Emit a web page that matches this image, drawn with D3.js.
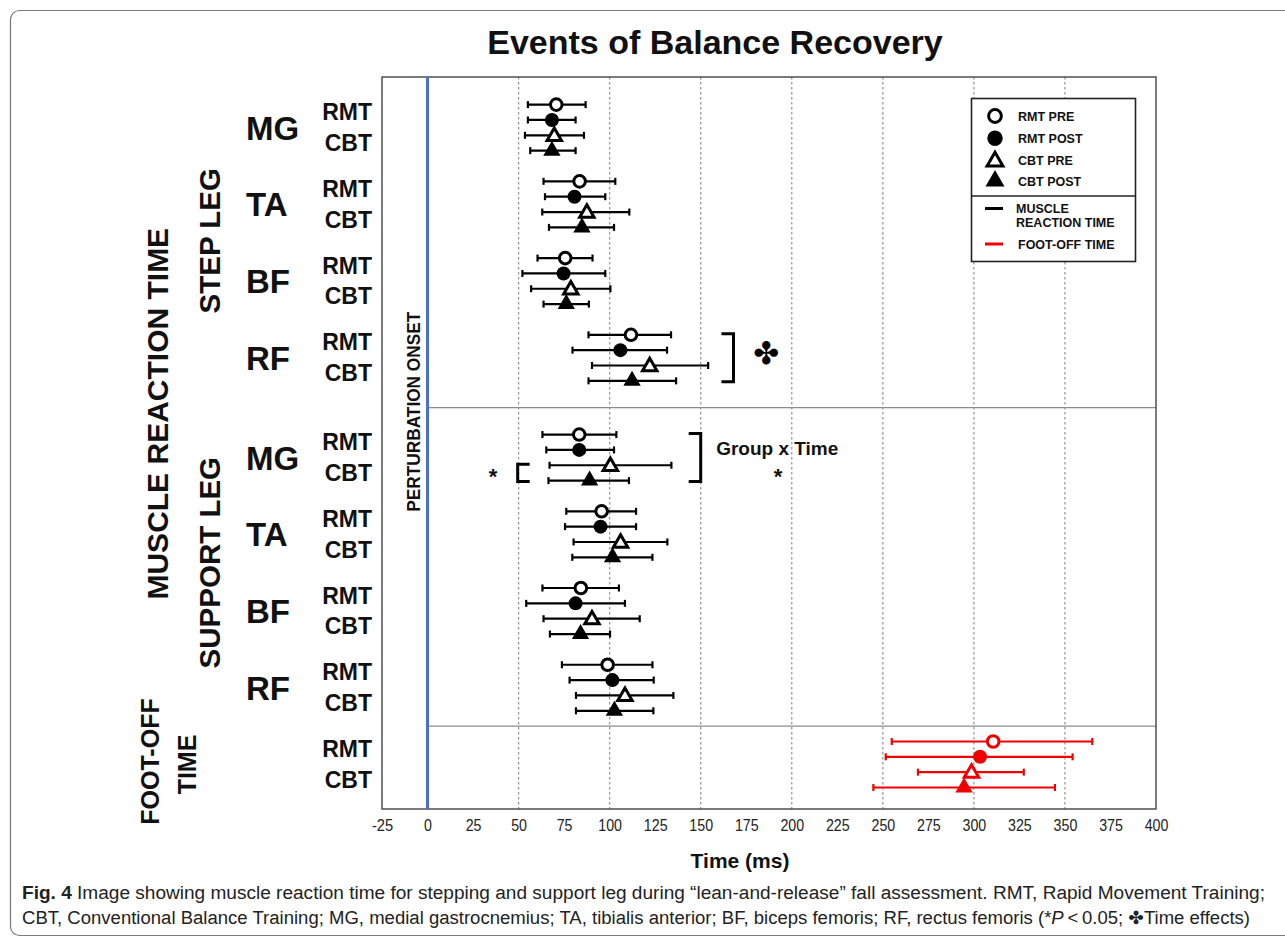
<!DOCTYPE html>
<html><head><meta charset="utf-8">
<script src="https://cdn.jsdelivr.net/npm/d3@7"></script>
<style>
body{margin:0;background:#fff;}
text{font-family:"Liberation Sans",Arial,sans-serif;}
</style></head>
<body>
<svg id="chart" width="1285" height="940"></svg>
<script>
// ---------- data ----------
const sections = ["STEP LEG", "SUPPORT LEG", "FOOT-OFF TIME"];
const muscles = ["MG", "TA", "BF", "RF"];
const series = ["RMT PRE", "RMT POST", "CBT PRE", "CBT POST"];
const groupLabels = ["RMT", "CBT"];
const xTicks = [-25, 0, 25, 50, 75, 100, 125, 150, 175, 200, 225, 250, 275, 300, 325, 350, 375, 400];
const gridValues = [50, 100, 150, 200, 250, 300, 350];

// means (ms) per muscle, series order RMT PRE, RMT POST, CBT PRE, CBT POST
const stepMean = [[70.7, 68.3, 69.6, 68.3], [83.5, 80.7, 87.5, 84.8], [75.6, 74.7, 78.7, 76.2], [111.7, 105.9, 122.0, 112.3]];
const stepLow  = [[55.1, 55.1, 53.5, 56.4], [63.7, 64.5, 63.0, 66.7], [60.4, 52.1, 56.9, 63.7], [88.4, 79.6, 90.3, 88.4]];
const stepHigh = [[86.8, 81.3, 85.9, 81.3], [103.1, 97.6, 110.8, 102.4], [90.6, 97.6, 100.4, 88.6], [133.7, 131.5, 154.1, 136.5]];

const supportMean = [[83.3, 83.3, 100.4, 89.0], [95.6, 95.0, 106.0, 101.6], [84.2, 81.3, 90.3, 84.0], [98.9, 101.5, 108.4, 102.6]];
const supportLow  = [[63.1, 65.2, 67.0, 66.4], [76.2, 75.5, 80.2, 79.5], [63.1, 54.2, 63.7, 67.2], [73.8, 78.0, 81.5, 81.5]];
const supportHigh = [[103.7, 102.4, 133.9, 110.6], [114.5, 114.5, 131.7, 123.5], [105.1, 108.4, 116.5, 100.2], [123.5, 124.2, 135.0, 124.0]];

const footMean = [[310.6, 303.4, 298.7, 294.6]];
const footLow  = [[254.9, 251.6, 269.3, 244.8]];
const footHigh = [[365.0, 354.2, 327.4, 344.5]];

// ---------- layout ----------
const svg = d3.select("#chart");
const plot = {left: 382, right: 1156, top: 77, bottom: 809};
const x = d3.scaleLinear().domain([-25, 400]).range([plot.left, plot.right]);
const y = d3.scaleLinear().domain([-1.8, 45.9]).range([plot.top, plot.bottom]);

const secGroups = [muscles, muscles, [""]];
const secMean = [stepMean, supportMean, footMean];
const secLow = [stepLow, supportLow, footLow];
const secHigh = [stepHigh, supportHigh, footHigh];
const sectionGap = [0, 1.5, 0];
const groupStep = 5;

const rows = [], groups = [], secInfo = [];
let slot = 0;
sections.forEach((sec, si) => {
  slot += sectionGap[si];
  const s0 = slot;
  secGroups[si].forEach((m, gi) => {
    groups.push({sec: si, name: m, start: slot});
    series.forEach((sr, k) => {
      rows.push({sec: si, group: gi, muscle: m, series: k, slot: slot + k,
        mean: secMean[si][gi][k], lo: secLow[si][gi][k], hi: secHigh[si][gi][k]});
    });
    slot += groupStep;
  });
  secInfo.push({start: s0, end: slot - groupStep + 3});
});

// frame
svg.append("rect").attr("x", 10.5).attr("y", 10.5).attr("width", 1290).attr("height", 925)
  .attr("rx", 9).attr("fill", "none").attr("stroke", "#7a7a7a").attr("stroke-width", 1.2);

// title
svg.append("text").attr("x", 715).attr("y", 54).attr("text-anchor", "middle")
  .attr("font-size", 34).attr("font-weight", "bold").attr("fill", "#111").text("Events of Balance Recovery");

// gridlines
svg.append("g").selectAll("line").data(gridValues).join("line")
  .attr("x1", d => x(d)).attr("x2", d => x(d)).attr("y1", plot.top).attr("y2", plot.bottom)
  .attr("stroke", "#9a9a9a").attr("stroke-width", 1.3).attr("stroke-dasharray", "2.5,2.5");

// section dividers
for (let i = 1; i < secInfo.length; i++) {
  const yy = y((secInfo[i - 1].end + secInfo[i].start) / 2);
  svg.append("line").attr("x1", x(0)).attr("x2", plot.right).attr("y1", yy).attr("y2", yy)
    .attr("stroke", "#8c8c8c").attr("stroke-width", 1.2);
}

// plot border
svg.append("rect").attr("x", plot.left).attr("y", plot.top)
  .attr("width", plot.right - plot.left).attr("height", plot.bottom - plot.top)
  .attr("fill", "none").attr("stroke", "#444").attr("stroke-width", 1.4);

// perturbation onset line
svg.append("line").attr("x1", x(0)).attr("x2", x(0)).attr("y1", plot.top).attr("y2", plot.bottom)
  .attr("stroke", "#4a6fc9").attr("stroke-width", 3);
svg.append("text").attr("transform", `translate(420,${(y(secInfo[0].start) + y(secInfo[1].end)) / 2 + 4}) rotate(-90)`)
  .attr("text-anchor", "middle").attr("font-size", 17.5).attr("font-weight", "bold")
  .attr("textLength", 200).attr("lengthAdjust", "spacingAndGlyphs").attr("fill", "#111")
  .text("PERTURBATION ONSET");

// x axis
const xAxis = d3.axisBottom(x).tickValues(xTicks).tickSize(0).tickPadding(10).tickFormat(d => String(d));
const ax = svg.append("g").attr("transform", `translate(0,${plot.bottom})`).call(xAxis);
ax.select(".domain").remove();
ax.selectAll("text").attr("font-size", 16.5).attr("fill", "#222")
  .style("font-family", "'Liberation Sans',Arial,sans-serif")
  .attr("textLength", d => String(d).length * 7.9 - (d < 0 ? 2.5 : 0))
  .attr("lengthAdjust", "spacingAndGlyphs");
svg.append("text").attr("x", 740).attr("y", 868).attr("text-anchor", "middle")
  .attr("font-size", 21).attr("font-weight", "bold").attr("fill", "#111").text("Time (ms)");

// left labels
const cy = s => y(s);
groups.forEach(g => {
  const mid = cy(g.start + 1.5);
  if (g.name) {
    svg.append("text").attr("x", 246).attr("y", mid + 12).attr("font-size", 33)
      .attr("font-weight", "bold").attr("fill", "#111").text(g.name);
  }
  svg.append("text").attr("x", 372).attr("y", cy(g.start + 0.5) + 8).attr("text-anchor", "end")
    .attr("font-size", 23).attr("font-weight", "bold").attr("fill", "#111").text(groupLabels[0]);
  svg.append("text").attr("x", 372).attr("y", cy(g.start + 2.5) + 8).attr("text-anchor", "end")
    .attr("font-size", 23).attr("font-weight", "bold").attr("fill", "#111").text(groupLabels[1]);
});
[0, 1].forEach(si => {
  const c = (cy(secInfo[si].start) + cy(secInfo[si].end)) / 2 - 2 - si * 8;
  svg.append("text").attr("transform", `translate(220,${c}) rotate(-90)`).attr("text-anchor", "middle")
    .attr("font-size", 29.5).attr("font-weight", "bold").attr("fill", "#111").text(sections[si]);
});
{
  const c = (cy(secInfo[0].start) + cy(secInfo[1].end)) / 2 + 6;
  svg.append("text").attr("transform", `translate(168,${c}) rotate(-90)`).attr("text-anchor", "middle")
    .attr("font-size", 30).attr("font-weight", "bold").attr("fill", "#111").text("MUSCLE REACTION TIME");
  const f = (cy(secInfo[2].start) + cy(secInfo[2].end)) / 2;
  const parts = sections[2].split(" ");
  svg.append("text").attr("transform", `translate(159,${f - 3}) rotate(-90)`).attr("text-anchor", "middle")
    .attr("font-size", 25).attr("font-weight", "bold").attr("fill", "#111").text(parts[0]);
  svg.append("text").attr("transform", `translate(196,${f}) rotate(-90)`).attr("text-anchor", "middle")
    .attr("font-size", 25).attr("font-weight", "bold").attr("fill", "#111").text(parts[1]);
}

// error bars + markers
const colorOf = r => r.sec === 2 ? "#f00000" : "#000";
const marks = svg.append("g");
rows.forEach(r => {
  const yy = y(r.slot), c = colorOf(r);
  marks.append("line").attr("x1", x(r.lo)).attr("x2", x(r.hi)).attr("y1", yy).attr("y2", yy)
    .attr("stroke", c).attr("stroke-width", 2.2);
  [r.lo, r.hi].forEach(v => marks.append("line").attr("x1", x(v)).attr("x2", x(v))
    .attr("y1", yy - 3.5).attr("y2", yy + 3.5).attr("stroke", c).attr("stroke-width", 2.2));
});
function drawMarker(g, k, cx, cyv, c, scale) {
  scale = scale || 1;
  if (k === 0) g.append("circle").attr("cx", cx).attr("cy", cyv).attr("r", 5.8 * scale)
      .attr("fill", "#fff").attr("stroke", c).attr("stroke-width", 3);
  else if (k === 1) g.append("circle").attr("cx", cx).attr("cy", cyv).attr("r", 7 * scale).attr("fill", c);
  else if (k === 2) g.append("path").attr("d", d3.symbol(d3.symbolTriangle, 90 * scale * scale)())
      .attr("transform", `translate(${cx},${cyv + 1})`).attr("fill", "#fff").attr("stroke", c)
      .attr("stroke-width", 3).attr("stroke-linejoin", "miter");
  else g.append("path").attr("d", d3.symbol(d3.symbolTriangle, 130 * scale * scale)())
      .attr("transform", `translate(${cx},${cyv})`).attr("fill", c);
}
rows.forEach(r => drawMarker(marks, r.series, x(r.mean), y(r.slot), colorOf(r)));

// annotations
const ann = svg.append("g").attr("stroke", "#000").attr("stroke-width", 3).attr("fill", "none");
function bracket(xv, s0, s1, dir) {
  const xx = x(xv), y0 = y(s0) - 1, y1 = y(s1) + 1, w = 12 * dir;
  ann.append("path").attr("d", `M${xx + w},${y0}H${xx}V${y1}H${xx + w}`);
}
bracket(168, 15, 18, -1);
bracket(150, 21.5, 24.5, -1);
bracket(49.5, 23.5, 24.5, 1);
svg.append("text").attr("x", x(186)).attr("y", y(16.7) + 3).attr("text-anchor", "middle")
  .attr("font-size", 31).attr("fill", "#000").style("font-family", "'DejaVu Sans',sans-serif").text("✤");
svg.append("text").attr("x", x(158.5)).attr("y", y(22.4) + 6.5).attr("font-size", 19)
  .attr("font-weight", "bold").attr("fill", "#111").text("Group x Time");
svg.append("text").attr("x", x(192.5)).attr("y", y(24) + 11).attr("text-anchor", "middle")
  .attr("font-size", 22).attr("font-weight", "bold").attr("fill", "#111").text("*");
svg.append("text").attr("x", x(36)).attr("y", y(24) + 11).attr("text-anchor", "middle")
  .attr("font-size", 22).attr("font-weight", "bold").attr("fill", "#111").text("*");

// legend
const lg = svg.append("g");
lg.append("rect").attr("x", 971.5).attr("y", 98.5).attr("width", 164).attr("height", 163)
  .attr("fill", "#fff").attr("stroke", "#222").attr("stroke-width", 1.6);
lg.append("line").attr("x1", 971.5).attr("x2", 1135.5).attr("y1", 196).attr("y2", 196)
  .attr("stroke", "#222").attr("stroke-width", 1.6);
const legY = [116, 138.3, 160.5, 181];
series.forEach((s, k) => {
  drawMarker(lg, k, 995, legY[k], "#000", 1.1);
  lg.append("text").attr("x", 1018).attr("y", legY[k] + 4.5).attr("font-size", 12.5)
    .attr("font-weight", "bold").attr("fill", "#111").text(s);
});
lg.append("line").attr("x1", 985).attr("x2", 1003).attr("y1", 208.5).attr("y2", 208.5)
  .attr("stroke", "#000").attr("stroke-width", 3);
lg.append("text").attr("x", 1016).attr("y", 213).attr("font-size", 12.5).attr("font-weight", "bold").attr("fill", "#111").text("MUSCLE");
lg.append("text").attr("x", 1016).attr("y", 227).attr("font-size", 12.5).attr("font-weight", "bold").attr("fill", "#111").text("REACTION TIME");
lg.append("line").attr("x1", 985).attr("x2", 1003).attr("y1", 244).attr("y2", 244)
  .attr("stroke", "#f00000").attr("stroke-width", 3);
lg.append("text").attr("x", 1018).attr("y", 248.5).attr("font-size", 12.5).attr("font-weight", "bold").attr("fill", "#111").text("FOOT-OFF TIME");

// caption
const capFont = "'Liberation Sans',Arial,sans-serif";
const cap1 = svg.append("text").attr("x", 22).attr("y", 899).attr("font-size", 18).attr("fill", "#222")
  .attr("textLength", 1243).attr("lengthAdjust", "spacingAndGlyphs").style("font-family", capFont);
cap1.append("tspan").attr("font-weight", "bold").text("Fig. 4");
cap1.append("tspan").text("  Image showing muscle reaction time for stepping and support leg during \u201clean-and-release\u201d fall assessment. RMT, Rapid Movement Training;");
const cap2 = svg.append("text").attr("x", 22).attr("y", 924).attr("font-size", 18).attr("fill", "#222")
  .attr("textLength", 1228).attr("lengthAdjust", "spacingAndGlyphs").style("font-family", capFont);
cap2.append("tspan").text("CBT, Conventional Balance Training; MG, medial gastrocnemius; TA, tibialis anterior; BF, biceps femoris; RF, rectus femoris (*");
cap2.append("tspan").attr("font-style", "italic").text("P");
cap2.append("tspan").text("\u2009<\u20090.05; ");
cap2.append("tspan").style("font-family", "'DejaVu Sans',sans-serif").attr("font-weight", "bold").text("\u2724");
cap2.append("tspan").text("Time effects)");
</script>
</body></html>
